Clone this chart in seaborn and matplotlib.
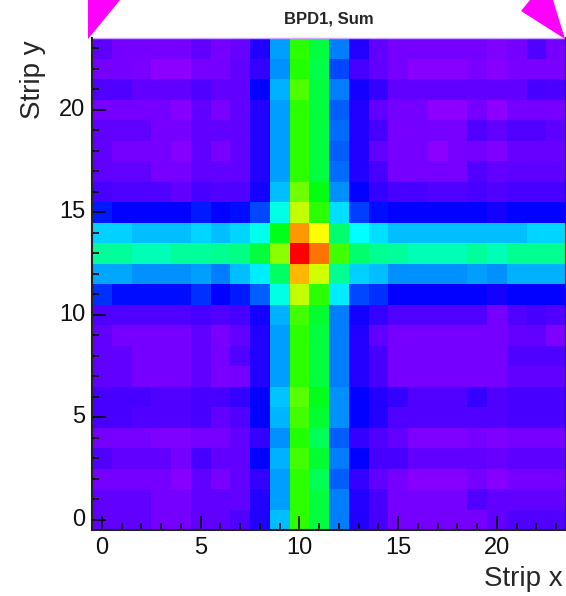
import numpy as np
import pandas as pd
import matplotlib
matplotlib.use("Agg")
import matplotlib.pyplot as plt
import seaborn as sns
from matplotlib.colors import LinearSegmentedColormap, hsv_to_rgb
from matplotlib.patches import Polygon

sns.set_style("white")
plt.rcParams["font.family"] = ["Liberation Sans", "DejaVu Sans"]

strip_x = list(range(24))
strip_y = list(range(24))
x_tick_labels = ["0", "5", "10", "15", "20"]
y_tick_labels = ["0", "5", "10", "15", "20"]

# counts per (y, x) cell, row index = strip y
row_y00 = [4.5,4.5,4.5,3,3,4.5,4.5,6,10,29,60,51,23.6,10,7,3,3,3,3,3,4.5,6,6,6]
row_y01 = [4.5,4.5,4.5,3,3,4.5,4.5,4.5,10,26.5,60,51,23.6,10,7,3,3,3,3,6,4.5,4.5,4.5,4.5]
row_y02 = [3,3,3,3,1.5,4.5,2.5,4.5,8.5,26.5,60,49,21,8.5,4.5,3,1.5,1.5,1.5,3,1.5,3,3,3]
row_y03 = [6,4.5,4.5,4.5,3,7,4.5,4.5,12.7,28,62,52,23.6,12.7,7,7,4.5,4.5,4.5,4.5,4,5,5,5]
row_y04 = [3,3,3,2,2,3,3,4.5,8.5,25,59,49,21,8.5,6,4.5,2,2,2,3,2,3,3,3]
row_y05 = [7,7,6,6,6,7,4.5,6,12.7,28.5,62,52,25,12.7,10,6,6,6,6,6,6,7,7,7]
row_y06 = [7,7,7,6,6,7,7,8.5,12.7,29.5,64,54,25,12.7,10,8.5,6,6,6,8.5,6,7,7,7]
row_y07 = [4.5,4.5,3,3,3,4.5,2.5,3,10,26.5,60,51,23.6,10,7,3,3,3,3,3,3,4.5,4.5,4.5]
row_y08 = [4.5,4.5,3,3,3,4.5,3,6,10,26.5,60,51,23.6,10,7,3,3,3,3,3,3,6,6,6]
row_y09 = [4.5,3,3,3,3,4.5,2.5,4.5,10,26.5,60,51,23.6,10,4.5,3,3,3,3,3,3,4.5,4.5,2]
row_y10 = [6,6,6,6,6,7,6,7,11,28,62,52,23.6,11,8.5,6,6,6,6,6,3,6,7,6]
row_y11 = [17,14,14,14,14,17,12.7,15,21,37,73,60,33,19,17,12.7,12.7,12.7,12.7,12.7,11,12.7,12.7,12.7]
row_y12 = [27,27,25,25,25,26.5,23.6,29,33,48,84,74,44,30.5,29,25,25,25,25,26.5,25,28,28,28]
row_y13 = [43,43,41,41,43,43,44,45,51,68,100,90,62,47,44,43,41,41,41,43,41,44,44,44]
row_y14 = [30.5,30.5,29,29,29,31,29,31,36,54,87,78,47,34.5,32,29,29,29,29,29,29,29,31,31]
row_y15 = [15,12.7,12.7,12.7,12.7,15,12.7,14,19,37,73,60,32,18,14,12.7,12.7,12.7,12.7,12.7,11,12.7,12.7,12.7]
row_y16 = [7,6,6,6,4.5,7,6,6,11,29,66,55,25,12.7,8.5,7,7,6,6,7,6,7,7,7]
row_y17 = [4.5,4.5,4.5,3,3,4.5,4.5,4.5,10,26.5,60,51,22,10,7,3,3,3,3,6,4.5,5,5,5]
row_y18 = [4.5,3,3,3,1.5,4.5,2.5,4.5,10,26.5,60,51,21,10,4.5,3,3,1,3,3,2,4,4,4]
row_y19 = [4.5,4.5,4.5,3,3,4.5,4.5,4.5,10,26.5,60,51,22,10,7,3,3,3,3,6,4.5,6,6,5]
row_y20 = [3,3,3,3,1.5,4.5,2.5,4.5,10,26.5,60,51,21,10,4.5,3,3,1,1,3,1,3,3,3]
row_y21 = [6,6,4.5,4.5,4.5,6,4.5,4.5,12.7,28,63,51,23.6,11,8.5,4.5,4.5,4.5,4.5,4.5,4.5,4.5,7,6.5]
row_y22 = [3,3,2.5,1,1,3,3,4.5,8.5,25,59,50,19,7,4.5,3,1.5,1.5,1.5,2.5,1.5,2.5,2.5,2.5]
row_y23 = [5,3,3,3,3,4.5,3,4,10,26.5,60,51,23.6,10,4.5,3,3,3,3,3,2,3,6,3]

rows = [row_y00,row_y01,row_y02,row_y03,row_y04,row_y05,row_y06,row_y07,
        row_y08,row_y09,row_y10,row_y11,row_y12,row_y13,row_y14,row_y15,
        row_y16,row_y17,row_y18,row_y19,row_y20,row_y21,row_y22,row_y23]
df = pd.DataFrame(rows, index=strip_y, columns=strip_x)

# ROOT-like rainbow palette: violet -> blue -> cyan -> green -> yellow -> red
hues = np.linspace(275/360, 0, 256)
cols = hsv_to_rgb(np.stack([hues, np.ones_like(hues), np.ones_like(hues)], axis=1))
cmap = LinearSegmentedColormap.from_list("root_rainbow", cols)

W, H = 566, 596
fig = plt.figure(figsize=(W/100, H/100), dpi=100)
ax = fig.add_axes([92/W, 66/H, (566-92)/W, (530-38)/H])
sns.heatmap(df, ax=ax, cmap=cmap, vmin=0, vmax=100, cbar=False,
            linewidths=0, square=False)
ax.invert_yaxis()
ax.set_xlim(0, 24)
ax.set_ylim(0, 24)
ax.set_axisbelow(False)

major = [int(t) + 0.5 for t in x_tick_labels]
ax.set_xticks(major)
ax.set_xticklabels(x_tick_labels, rotation=0)
ax.set_yticks([int(t) + 0.5 for t in y_tick_labels])
ax.set_yticklabels(y_tick_labels, rotation=0)
ax.set_xticks([i + 0.5 for i in strip_x], minor=True)
ax.set_yticks([i + 0.5 for i in strip_y], minor=True)
ax.tick_params(which="both", direction="in", bottom=True, left=True,
               top=False, right=False, color="black", width=1.2)
ax.tick_params(which="major", length=10, labelsize=17, pad=5, labelcolor="#111111")
ax.tick_params(which="minor", length=5)
for t in ax.xaxis.get_major_ticks() + ax.xaxis.get_minor_ticks() + \
         ax.yaxis.get_major_ticks() + ax.yaxis.get_minor_ticks():
    t.tick1line.set_zorder(5)
ax.set_xlabel("")
ax.set_ylabel("")

for side in ["left", "bottom", "right"]:
    ax.spines[side].set_visible(True)
    ax.spines[side].set_color("#222222")
    ax.spines[side].set_linewidth(1.5)
    ax.spines[side].set_zorder(6)
ax.spines["top"].set_visible(True)
ax.spines["top"].set_color("#c9a8ff")
ax.spines["top"].set_linewidth(1.0)

fig.text(329/W, 1 - 19/H, "BPD1, Sum", ha="center", va="center",
         fontsize=12, fontweight="bold")
fig.text(563/W, 1 - 579/H, "Strip x", ha="right", va="center", fontsize=20)
fig.text(33/W, 1 - 40/H, "Strip y", ha="center", va="top", fontsize=20,
         rotation=90)

def px(x, y):
    return (x / W, 1 - y / H)

fig.patches.append(Polygon([px(88, 0), px(120, 0), px(88, 39)], closed=True,
                           transform=fig.transFigure, facecolor="#ff00ff",
                           edgecolor="none", figure=fig))
fig.patches.append(Polygon([px(521, 11), px(530, 0), px(553, 0), px(565, 39)],
                           closed=True, transform=fig.transFigure,
                           facecolor="#ff00ff", edgecolor="none", figure=fig))

fig.savefig("out.png", dpi=100)
